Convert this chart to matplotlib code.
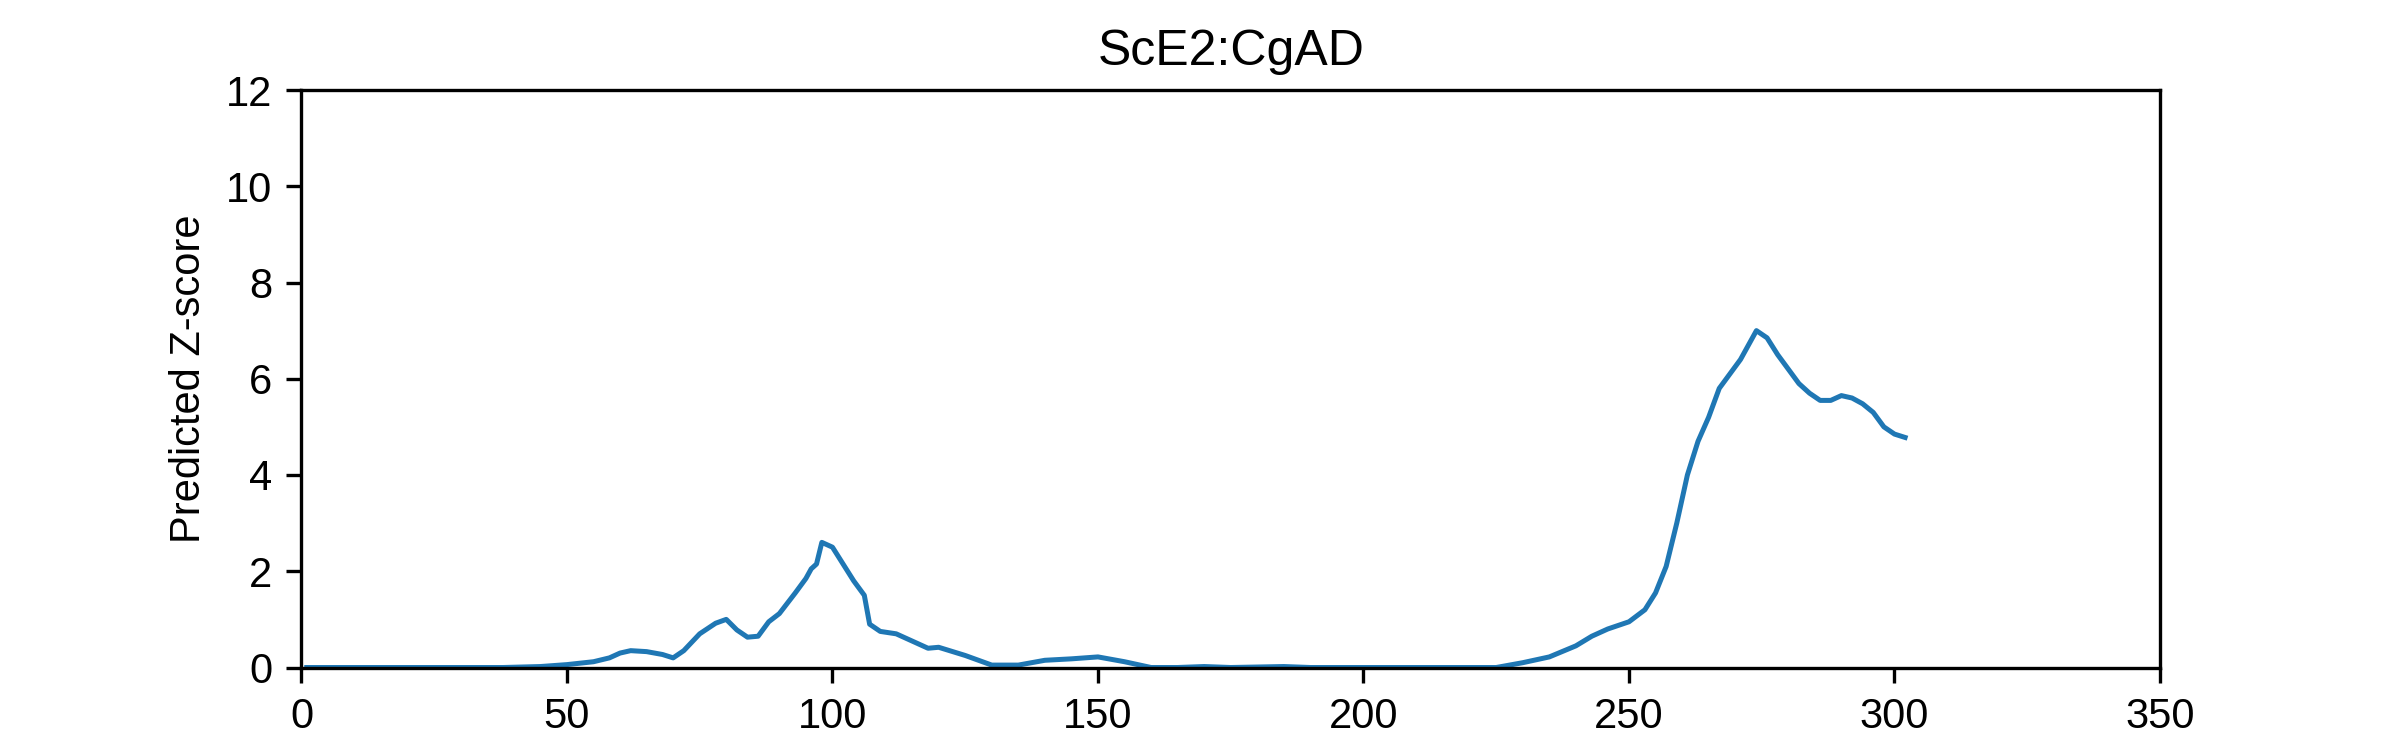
import matplotlib
matplotlib.use("Agg")
import matplotlib.pyplot as plt

plt.rcParams['font.family'] = ['Liberation Sans', 'DejaVu Sans']

x = [1, 38, 45, 50, 55, 58, 60, 62, 65, 68, 70, 72, 75, 78, 80, 82, 84, 86, 88, 90, 93, 95, 96, 97, 98, 100,
     102, 104, 106, 107, 109, 112, 115, 118, 120, 125, 130, 135, 140, 145, 150, 155, 160, 165, 170, 175, 185,
     190, 200, 225, 230, 235, 240, 243, 246, 250, 253, 255, 257, 259, 261, 263, 265, 267, 269, 271, 274, 276,
     278, 280, 282, 284, 286, 288, 290, 292, 294, 296, 298, 300, 302]
y = [0, 0, 0.02, 0.06, 0.12, 0.2, 0.3, 0.35, 0.33, 0.27, 0.2, 0.35, 0.7, 0.92, 1.0, 0.78, 0.63, 0.65, 0.95, 1.12, 1.55, 1.85, 2.05, 2.15, 2.6, 2.5,
     2.15, 1.8, 1.5, 0.9, 0.75, 0.7, 0.55, 0.4, 0.42, 0.25, 0.05, 0.05, 0.15, 0.18, 0.22, 0.12, 0.0, 0.0, 0.02, 0.0, 0.02,
     0.0, 0.0, 0.0, 0.1, 0.22, 0.45, 0.65, 0.8, 0.95, 1.2, 1.55, 2.1, 3.0, 4.0, 4.7, 5.2, 5.8, 6.1, 6.4, 7.0, 6.85,
     6.5, 6.2, 5.9, 5.7, 5.55, 5.55, 5.65, 5.6, 5.48, 5.3, 5.0, 4.85, 4.78]

fig = plt.figure(figsize=(8, 2.5), dpi=300)
ax = fig.add_axes([0.1256, 0.11, 0.7744, 0.77])
ax.plot(x, y, color='#1f77b4', linewidth=1.2)
ax.set_xlim(0, 350)
ax.set_ylim(0, 12)
ax.set_xticks([0, 50, 100, 150, 200, 250, 300, 350])
ax.set_yticks([0, 2, 4, 6, 8, 10, 12])
ax.tick_params(labelsize=10, width=0.8)
for s in ax.spines.values():
    s.set_linewidth(0.8)
ax.set_ylabel('Predicted Z-score', fontsize=10)
ax.set_title('ScE2:CgAD', fontsize=12)
fig.savefig('out.png', dpi=300)
